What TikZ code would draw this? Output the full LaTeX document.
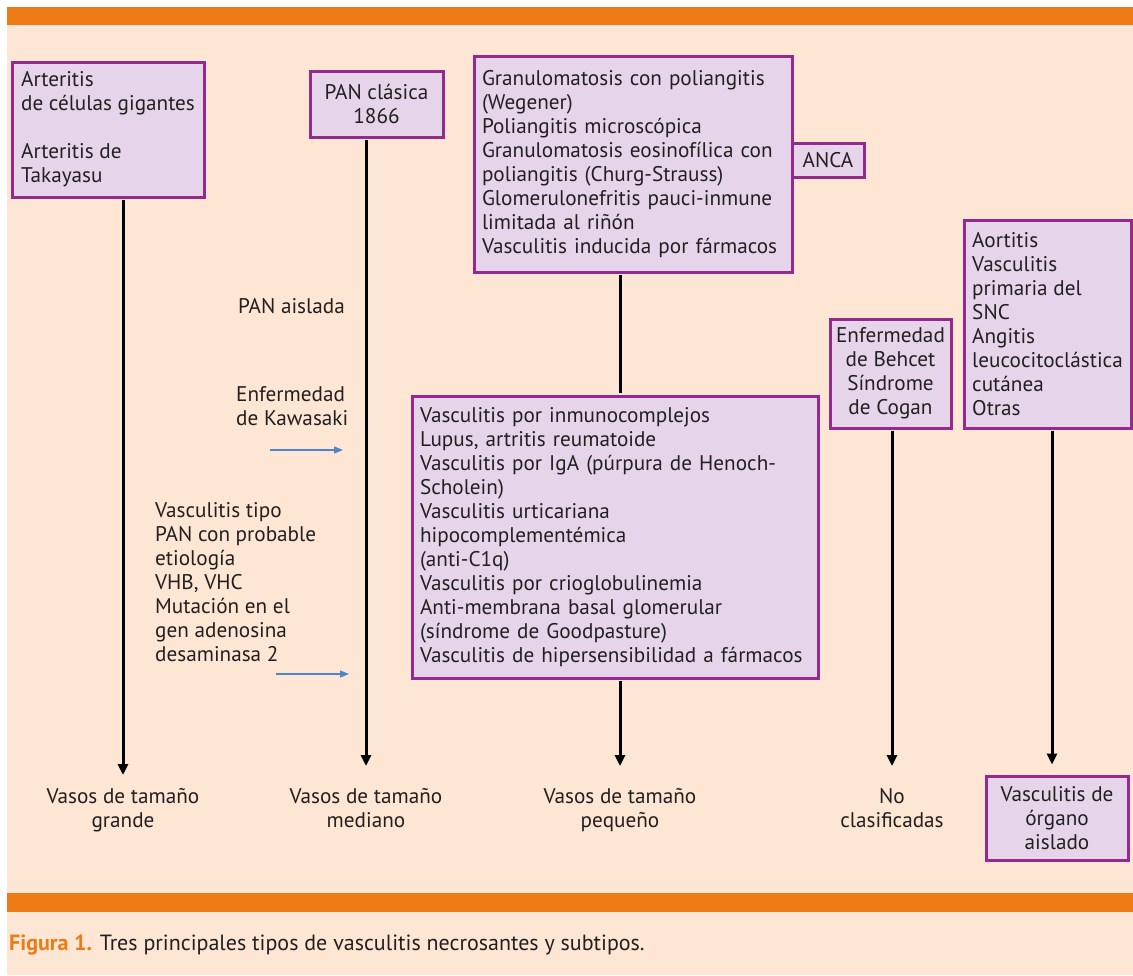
\documentclass[tikz,border=0pt]{standalone}
\usepackage{fontspec}
\setmainfont{PT Sans}
\usetikzlibrary{arrows.meta}
\definecolor{peach}{HTML}{FDE6D4}
\definecolor{bar}{HTML}{EE7A16}
\definecolor{boxfill}{HTML}{E6D5EA}
\definecolor{boxline}{HTML}{962A8C}
\definecolor{bluearr}{HTML}{4A86C8}
\definecolor{ink}{HTML}{231F20}
\begin{document}
\begin{tikzpicture}[x=1pt,y=-1pt,
  every node/.style={font=\fontsize{21.2}{24}\selectfont, text=ink},
  box/.style={draw=boxline, fill=boxfill, line width=3pt, inner xsep=8pt, inner ysep=0pt},
  lbox/.style={box, align=left},
  cbox/.style={box, align=center},
  lbl/.style={align=center, inner sep=0pt},
  free/.style={align=left, inner sep=0pt},
  arr/.style={line width=3pt, shorten <=1.5pt, -{Triangle[width=10pt,length=11pt]}},
  plain/.style={line width=3pt, shorten <=1.5pt, shorten >=1.5pt},
  barr/.style={draw=bluearr, line width=1.3pt, -{Triangle[width=7pt,length=9pt]}}
]
\useasboundingbox (0,0) rectangle (1133,975);
\fill[white] (0,0) rectangle (1133,975);
\fill[peach] (7,25) rectangle (1133,975);
\fill[bar] (7,7) rectangle (1133,25);
\fill[bar] (7,893) rectangle (1133,912);

% boxes
\node[lbox, minimum width=192pt, minimum height=135pt, inner xsep=2pt] (A) at (108,129.5)
  {Arteritis\\de células gigantes\\[24pt]Arteritis de\\Takayasu};
\node[cbox, minimum width=133pt, minimum height=66pt] (P) at (376.5,104)
  {PAN clásica\\1866};
\node[lbox, minimum width=318pt, minimum height=216pt, text width=302pt] (G) at (633,164)
  {Granulomatosis con poliangitis\\(Wegener)\\Poliangitis microscópica\\Granulomatosis eosinofílica con\\poliangitis (Churg-Strauss)\\Glomerulonefritis pauci-inmune\\limitada al riñón\\Vasculitis inducida por fármacos};
\node[cbox, minimum width=72pt, minimum height=34pt, inner xsep=2pt] (N) at (828,160) {ANCA};
\node[lbox, minimum width=406pt, minimum height=282pt, text width=390pt] (I) at (615,537)
  {Vasculitis por inmunocomplejos\\Lupus, artritis reumatoide\\Vasculitis por IgA (púrpura de Henoch-\\Scholein)\\Vasculitis urticariana\\hipocomplementémica\\(anti-C1q)\\Vasculitis por crioglobulinemia\\Anti-membrana basal glomerular\\(síndrome de Goodpasture)\\Vasculitis de hipersensibilidad a fármacos};
\node[cbox, minimum width=121pt, minimum height=109pt, inner xsep=2pt] (B) at (890.5,373.5)
  {Enfermedad\\de Behcet\\Síndrome\\de Cogan};
\node[lbox, minimum width=167pt, minimum height=208pt, inner xsep=2pt] (Ao) at (1047.5,324)
  {Aortitis\\Vasculitis\\primaria del\\SNC\\Angitis\\leucocitoclástica\\cutánea\\Otras};
\node[cbox, minimum width=142pt, minimum height=84pt, inner xsep=2pt] (Is) at (1057,818)
  {Vasculitis de\\órgano\\aislado};

% bottom labels
\node[lbl, anchor=north] (L1) at (123,788) {Vasos de tamaño\\grande};
\node[lbl, anchor=north] (L2) at (366,788) {Vasos de tamaño\\mediano};
\node[lbl, anchor=north] (L3) at (620,788) {Vasos de tamaño\\pequeño};
\node[lbl, anchor=north] (L4) at (892,788) {No\\clasificadas};

% free texts
\node[free, anchor=base west] (pa) at (238,313) {PAN aislada};
\node[free, anchor=north west] (kw) at (236,386) {Enfermedad\\de Kawasaki};
\node[free, anchor=north west] (vt) at (155,502) {Vasculitis tipo\\PAN con probable\\etiología\\VHB, VHC\\Mutación en el\\gen adenosina\\desaminasa 2};

% connectors
\draw[arr, shorten >=13pt] (A.south -| L1.north) -- (L1.north);
\draw[arr, shorten >=22pt] (P.south -| L2.north) -- (L2.north);
\draw[plain] (G.south -| L3.north) -- (I.north -| L3.north);
\draw[arr, shorten >=22pt] (I.south -| L3.north) -- (L3.north);
\draw[arr, shorten >=22pt] (B.south -| L4.north) -- (L4.north);
\draw[arr, shorten >=10pt] ([xshift=4.5pt]Ao.south) -- ([xshift=4.5pt]Ao.south |- Is.north);

% blue arrows
\coordinate (b1a) at (270,450);
\coordinate (b1b) at (343,450);
\coordinate (b2a) at (276,674);
\coordinate (b2b) at (349,674);
\draw[barr] (b1a) -- (b1b);
\draw[barr] (b2a) -- (b2b);

% caption
\node[anchor=base west, inner sep=0pt, font=\fontsize{22}{24}\selectfont] (cap) at (9,950)
  {\textcolor{bar}{\bfseries Figura 1.} Tres principales tipos de vasculitis necrosantes y subtipos.};
\end{tikzpicture}
\end{document}
